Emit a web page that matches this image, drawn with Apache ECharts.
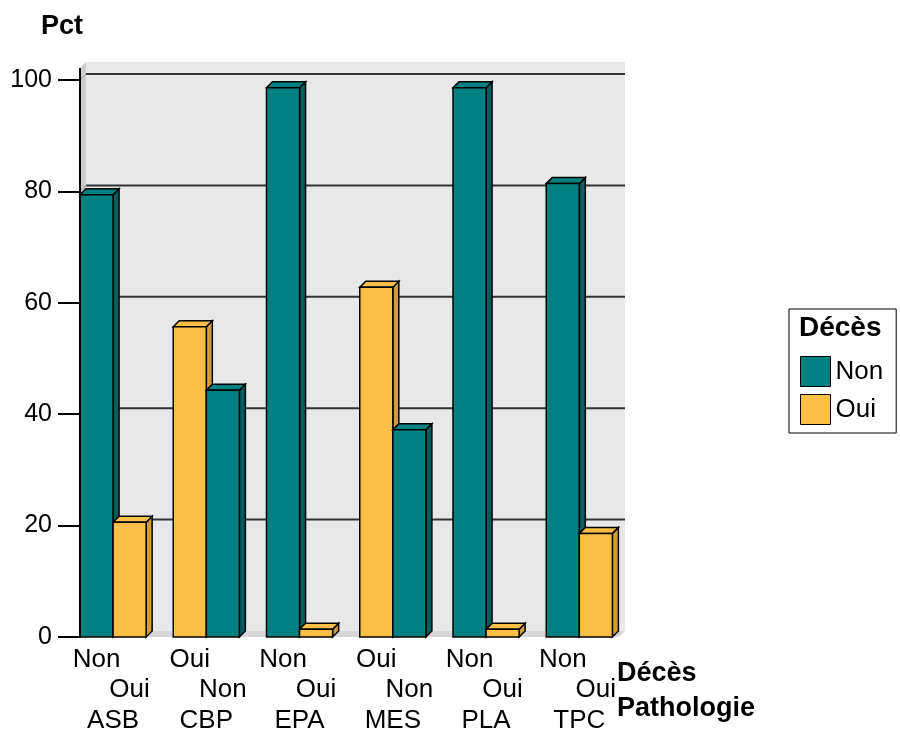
<!DOCTYPE html>
<html><head><meta charset="utf-8">
<script src="https://cdn.jsdelivr.net/npm/echarts@6/dist/echarts.min.js"></script>
<style>html,body{margin:0;padding:0;background:#fff}#c{width:900px;height:733px}</style>
</head><body><div id="c"></div>
<script>
// ---- data ----
const pathologies = ['ASB', 'CBP', 'EPA', 'MES', 'PLA', 'TPC'];
const firstBar = ['Non', 'Oui', 'Non', 'Oui', 'Non', 'Non'];   // décès level of the left bar in each group
const secondBar = ['Oui', 'Non', 'Oui', 'Non', 'Oui', 'Oui'];  // décès level of the right bar in each group
const pctNon = [79.4, 44.3, 98.6, 37.2, 98.6, 81.4];
const pctOui = [20.6, 55.7, 1.4, 62.8, 1.4, 18.6];
const yTicks = [0, 20, 40, 60, 80, 100];
const levels = ['Non', 'Oui'];

// ---- layout / style ----
const FONT = '"Liberation Sans", Arial, sans-serif';
const PITCH = 2.82, XMAX = 16.3, D = 6;
const colors = {
  Non: { front: '#008080', top: '#008080', side: '#005e5e' },
  Oui: { front: '#fbbf47', top: '#fbbf47', side: '#d29d38' }
};

function barData(level, values) {
  return pathologies.map((p, g) => [g, firstBar[g] === level ? 0 : 1, values[g]]);
}

function renderBar(params, api) {
  const g = api.value(0), slot = api.value(1), v = api.value(2);
  const xl = g * PITCH + slot;
  const a = api.coord([xl, v]), b = api.coord([xl + 1, 0]);
  const c = colors[params.seriesName];
  const x0 = a[0], x1 = b[0], yt = a[1], yb = b[1];
  const st = { stroke: '#000', lineWidth: 1.5, lineJoin: 'miter' };
  const z2 = slot * 10;
  return { type: 'group', children: [
    { type: 'polygon', z2: z2, shape: { points: [[x1, yt], [x1 + D, yt - D], [x1 + D, yb - D], [x1, yb]] }, style: Object.assign({ fill: c.side }, st) },
    { type: 'polygon', z2: z2, shape: { points: [[x0, yt], [x0 + D, yt - D], [x1 + D, yt - D], [x1, yt]] }, style: Object.assign({ fill: c.top }, st) },
    { type: 'rect', z2: z2 + 1, shape: { x: x0, y: yt, width: x1 - x0, height: yb - yt }, style: Object.assign({ fill: c.front }, st) }
  ]};
}

function renderWall(params, api) {
  const tl = api.coord([0, 100]), br = api.coord([XMAX, 0]);
  const L = tl[0], R = br[0], T = tl[1] - 12, B = br[1];
  const children = [
    { type: 'rect', shape: { x: L + D, y: T - D, width: R - L, height: B - T }, style: { fill: '#e8e8e8' } },
    { type: 'polygon', shape: { points: [[L, T], [L + D, T - D], [L + D, B - D], [L, B]] }, style: { fill: '#cbcbcb' } },
    { type: 'polygon', shape: { points: [[L, B], [L + D, B - D], [R + D, B - D], [R, B]] }, style: { fill: '#d6d6d6' } }
  ];
  yTicks.forEach(t => {
    if (t === 0) return;
    const y = api.coord([0, t])[1];
    children.push({ type: 'line', shape: { x1: L + D, y1: y - D, x2: R + D, y2: y - D }, style: { stroke: '#333', lineWidth: 2 } });
    children.push({ type: 'line', shape: { x1: L, y1: y, x2: L + D, y2: y - D }, style: { stroke: '#9a9a9a', lineWidth: 1 } });
  });
  children.push({ type: 'line', shape: { x1: L, y1: T, x2: L, y2: tl[1] }, style: { stroke: '#000', lineWidth: 2 } });
  return { type: 'group', children };
}

function rowAxis(offset, centers, labelOf, name, nameStyle) {
  return {
    type: 'value', gridIndex: 0, position: 'bottom', offset: offset,
    min: 0, max: XMAX,
    axisLine: { show: false }, axisTick: { show: false }, splitLine: { show: false },
    axisLabel: {
      customValues: centers, fontSize: 26, color: '#000', fontFamily: FONT, margin: 10,
      formatter: v => labelOf(v)
    },
    name: name, nameLocation: 'end', nameGap: -2,
    nameTextStyle: Object.assign({ fontSize: 27, fontWeight: 'bold', color: '#000', fontFamily: FONT, align: 'left' }, nameStyle || {})
  };
}

const row1 = pathologies.map((p, g) => g * PITCH + 0.5);
const row2 = pathologies.map((p, g) => g * PITCH + 1.5);
const row3 = pathologies.map((p, g) => g * PITCH + 1);

const chart = echarts.init(document.getElementById('c'), null, { renderer: 'canvas' });
chart.setOption({
  animation: false,
  backgroundColor: '#fff',
  textStyle: { fontFamily: FONT },
  grid: { left: 80, top: 80, width: 539, height: 557, outerBoundsMode: 'none', containLabel: false },
  title: { text: 'Décès', left: 799, top: 314, padding: 0,
           textStyle: { fontSize: 28, fontWeight: 'bold', color: '#000', fontFamily: FONT } },
  legend: {
    orient: 'vertical', left: 789, top: 309, data: levels,
    itemWidth: 30, itemHeight: 30, itemGap: 7,
    padding: [47, 13, 8, 11], borderColor: '#000', borderWidth: 1,
    icon: 'rect', itemStyle: { borderColor: '#000', borderWidth: 1 },
    textStyle: { fontSize: 26, color: '#000', fontFamily: FONT }
  },
  xAxis: [
    rowAxis(0, row1, v => firstBar[Math.round((v - 0.5) / PITCH)], 'Décès', { verticalAlign: 'top', lineHeight: 74 }),
    rowAxis(30, row2, v => secondBar[Math.round((v - 1.5) / PITCH)], ''),
    rowAxis(61, row3, v => pathologies[Math.round((v - 1) / PITCH)], 'Pathologie', { verticalAlign: 'top', lineHeight: 22 })
  ],
  yAxis: {
    type: 'value', min: 0, max: 100, interval: 20, z: 5,
    name: 'Pct', nameLocation: 'end', nameGap: 40,
    nameTextStyle: { fontSize: 27, fontWeight: 'bold', color: '#000', fontFamily: FONT, align: 'center', padding: [0, 36, 0, 0] },
    axisLine: { show: true, lineStyle: { color: '#000', width: 2 } },
    axisTick: { show: true, length: 22, lineStyle: { color: '#000', width: 2 } },
    axisLabel: { fontSize: 25, margin: 28, color: '#000', fontFamily: FONT },
    splitLine: { show: false }
  },
  series: [
    { type: 'custom', name: 'wall', silent: true, z: 1, renderItem: renderWall, data: [[0, 0]] },
    { type: 'custom', name: 'Non', z: 2, itemStyle: { color: colors.Non.front }, renderItem: renderBar,
      encode: { x: 0, y: 2 }, data: barData('Non', pctNon) },
    { type: 'custom', name: 'Oui', z: 2, itemStyle: { color: colors.Oui.front }, renderItem: renderBar,
      encode: { x: 0, y: 2 }, data: barData('Oui', pctOui) }
  ]
});
</script>
</body></html>
